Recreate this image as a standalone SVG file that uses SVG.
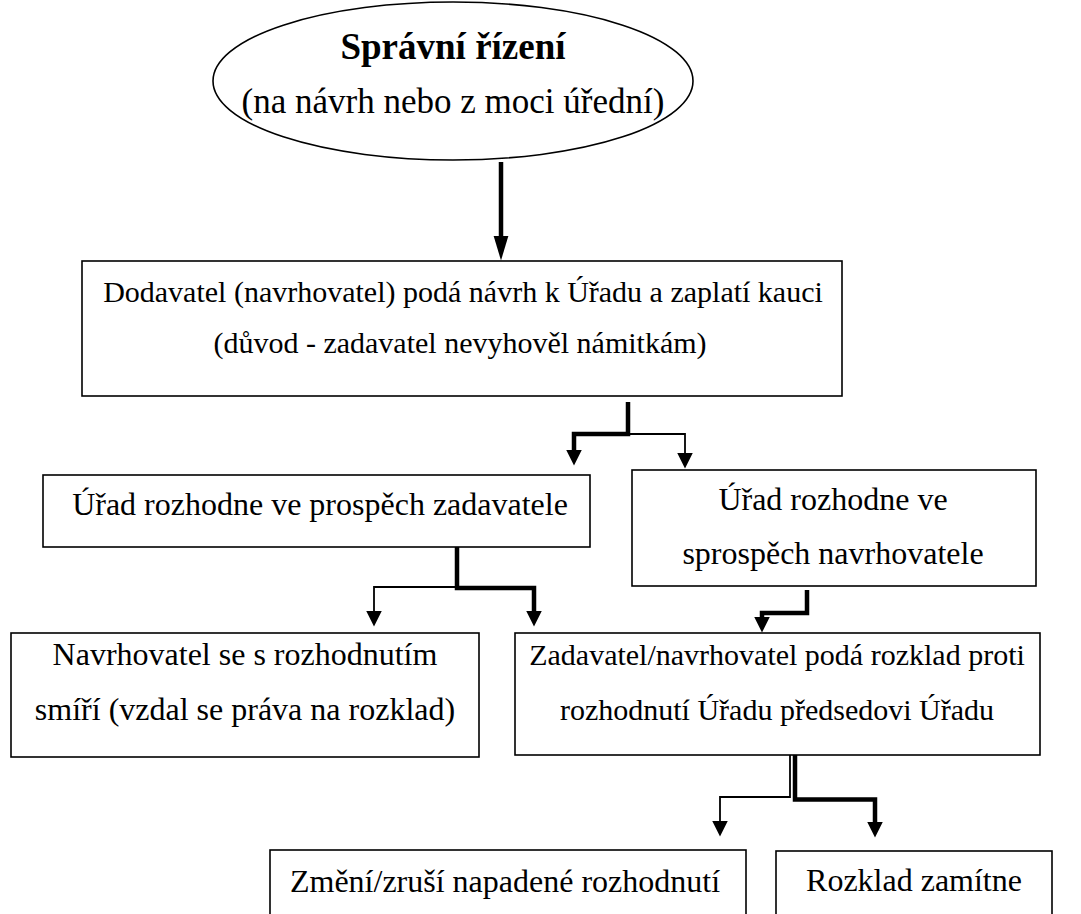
<svg xmlns="http://www.w3.org/2000/svg" width="1081" height="914" viewBox="0 0 1081 914">
<style>
.box{fill:#fff;stroke:#000;stroke-width:1.6}
text{font-size:32px;fill:#000;text-anchor:middle}
.s30{font-size:30px}
.b{font-weight:bold;font-size:37px}
.s35{font-size:35px}
.thick{fill:none;stroke:#000;stroke-width:4.5;stroke-linejoin:miter}
.thin{fill:none;stroke:#000;stroke-width:1.8;stroke-linejoin:miter}
</style>
<defs>
<marker id="ah" markerUnits="userSpaceOnUse" markerWidth="16" markerHeight="16" viewBox="0 -8 16 16" refX="0.5" refY="0" orient="auto">
<path d="M0,-8 L16,0 L0,8 Z" fill="#000"/>
</marker>
<marker id="ahl" markerUnits="userSpaceOnUse" markerWidth="25" markerHeight="16" viewBox="0 -8 25 16" refX="0.5" refY="0" orient="auto">
<path d="M0,-7.5 L25,0 L0,7.5 Z" fill="#000"/>
</marker>
</defs>
<rect width="1081" height="914" fill="#fff"/>
<g font-family="Liberation Serif, Times New Roman, serif">
<g id="n-start">
<ellipse class="box" cx="453" cy="81" rx="240" ry="79"/>
<text class="b" x="453" y="59">Správní řízení</text>
<text class="s35" x="453" y="113">(na návrh nebo z moci úřední)</text>
</g>
<g id="n-navrh">
<rect class="box" x="82" y="261" width="760" height="135"/>
<text class="s30" x="463" y="302">Dodavatel (navrhovatel) podá návrh k Úřadu a zaplatí kauci</text>
<text class="s30" x="460" y="353">(důvod - zadavatel nevyhověl námitkám)</text>
</g>
<g id="n-zadavatel">
<rect class="box" x="43" y="475" width="547" height="72"/>
<text x="320" y="515">Úřad rozhodne ve prospěch zadavatele</text>
</g>
<g id="n-navrhovatel">
<rect class="box" x="632" y="470" width="404" height="116"/>
<text x="833" y="510">Úřad rozhodne ve</text>
<text x="833" y="564">sprospěch navrhovatele</text>
</g>
<g id="n-smiri">
<rect class="box" x="11" y="633" width="468" height="124"/>
<text x="245" y="665">Navrhovatel se s rozhodnutím</text>
<text x="245" y="720">smíří (vzdal se práva na rozklad)</text>
</g>
<g id="n-rozklad">
<rect class="box" x="515" y="633" width="525" height="122"/>
<text class="s30" x="777" y="665">Zadavatel/navrhovatel podá rozklad proti</text>
<text class="s30" x="777" y="720">rozhodnutí Úřadu předsedovi Úřadu</text>
</g>
<g id="n-zmeni">
<rect class="box" x="270" y="850" width="476" height="90"/>
<text x="505" y="892">Změní/zruší napadené rozhodnutí</text>
</g>
<g id="n-zamitne">
<rect class="box" x="776" y="851" width="276" height="90"/>
<text x="914" y="891">Rozklad zamítne</text>
</g>
</g>
<g id="connectors">
<path class="thick" d="M501,162 V236" marker-end="url(#ahl)"/>
<path class="thick" d="M628,402 V434 H574 V450" marker-end="url(#ah)"/>
<path class="thin" d="M628,434 H685 V453" marker-end="url(#ah)"/>
<path class="thin" d="M457,587 H374 V611" marker-end="url(#ah)"/>
<path class="thick" d="M457,547 V588 H534 V611" marker-end="url(#ah)"/>
<path class="thick" d="M807,590 V613 H762 V617" marker-end="url(#ah)"/>
<path class="thin" d="M790,755 V797 H720 V821" marker-end="url(#ah)"/>
<path class="thick" d="M795,755 V799.5 H875 V822" marker-end="url(#ah)"/>
</g>
</svg>
